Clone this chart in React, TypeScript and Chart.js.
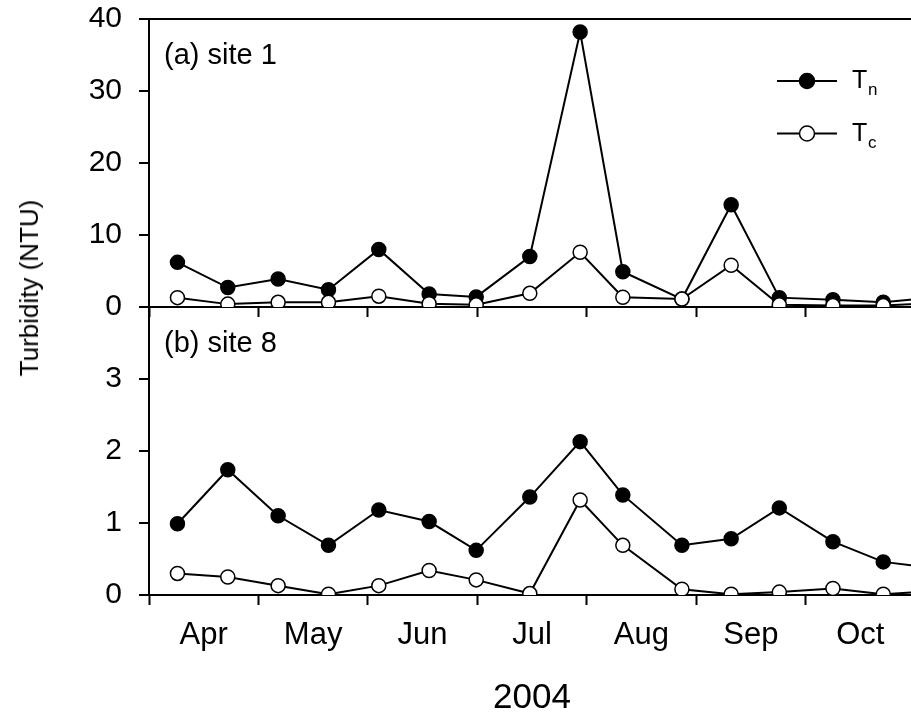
import React, { useEffect, useRef } from 'react';
import { Chart, registerables } from 'chart.js';

Chart.register(...registerables);

// ---- data ----
const months = ['Apr', 'May', 'Jun', 'Jul', 'Aug', 'Sep', 'Oct'];
// sampling dates as month position (0 = 1 Apr, 1 = 1 May, ...)
const sampleMonthPos = [0.26, 0.72, 1.18, 1.64, 2.1, 2.56, 2.99, 3.48, 3.94, 4.33, 4.87, 5.32, 5.76, 6.25, 6.71, 7.13];
const site1Tn = [6.2, 2.7, 3.9, 2.4, 8.0, 1.8, 1.4, 7.0, 38.2, 4.9, 1.1, 14.2, 1.3, 1.0, 0.65, 1.26];
const site1Tc = [1.3, 0.4, 0.65, 0.65, 1.5, 0.45, 0.3, 1.9, 7.6, 1.35, 1.1, 5.8, 0.3, 0.2, 0.2, 0.52];
const site8Tn = [0.99, 1.74, 1.1, 0.69, 1.18, 1.02, 0.62, 1.36, 2.13, 1.39, 0.69, 0.78, 1.21, 0.74, 0.46, 0.38];
const site8Tc = [0.3, 0.25, 0.13, 0.01, 0.13, 0.34, 0.21, 0.02, 1.32, 0.69, 0.08, 0.01, 0.04, 0.09, 0.01, 0.05];
const site1Ticks = [0, 10, 20, 30, 40];
const site8Ticks = [0, 1, 2, 3, 4];
const site8TickLabels = ['0', '1', '2', '3', ''];
const seriesNames: [string, string][] = [['T', 'n'], ['T', 'c']];
const panelLabels = ['(a) site 1', '(b) site 8'];
const yTitle = 'Turbidity (NTU)';
const xTitle = '2004';

const FONT = '"Liberation Sans", Arial, Helvetica, sans-serif';

const xTickValues: number[] = [];
for (let i = 0; i <= months.length; i++) {
  xTickValues.push(i);
  if (i < months.length) xTickValues.push(i + 0.5);
}

function pts(ys: number[]) {
  return sampleMonthPos.map((x, i) => ({ x, y: ys[i] }));
}

function series(label: string, ys: number[], fill: string, order: number) {
  return {
    label,
    data: pts(ys),
    borderColor: '#000',
    borderWidth: 2,
    pointRadius: 7,
    pointHoverRadius: 7,
    pointBackgroundColor: fill,
    pointBorderColor: '#000',
    pointBorderWidth: 1.5,
    tension: 0,
    order,
  };
}

function xScale(showLabels: boolean, height: number) {
  return {
    type: 'linear',
    min: 0,
    max: months.length,
    afterBuildTicks: (s: any) => {
      s.ticks = xTickValues.map((v) => ({ value: v }));
    },
    afterFit: (s: any) => {
      s.height = height;
      s.paddingLeft = 0;
      s.paddingRight = 0;
    },
    border: { display: true, color: '#000', width: 2 },
    grid: {
      display: true,
      drawOnChartArea: false,
      drawTicks: true,
      tickLength: 10,
      tickWidth: 2,
      tickColor: (ctx: any) =>
        ctx.tick && Number.isInteger(ctx.tick.value) ? '#000' : 'rgba(0,0,0,0)',
    },
    ticks: {
      display: showLabels,
      autoSkip: false,
      maxRotation: 0,
      minRotation: 0,
      padding: 12,
      color: '#000',
      font: { family: FONT, size: 31 },
      callback: (v: number) => (Number.isInteger(v) ? '' : months[Math.floor(v)]),
    },
    title: showLabels
      ? {
          display: true,
          text: xTitle,
          color: '#000',
          font: { family: FONT, size: 35, lineHeight: 1 },
          padding: { top: 0, bottom: 1 },
        }
      : { display: false },
  };
}

function yScale(ticks: number[], labels: string[] | null, gridTop: boolean) {
  const max = ticks[ticks.length - 1];
  return {
    type: 'linear',
    min: ticks[0],
    max,
    afterBuildTicks: (s: any) => {
      s.ticks = ticks.map((v) => ({ value: v }));
    },
    afterFit: (s: any) => {
      s.width = 149;
      s.paddingTop = 0;
      s.paddingBottom = 0;
    },
    border: { display: true, color: '#000', width: 2 },
    grid: {
      display: true,
      drawOnChartArea: true,
      lineWidth: 2,
      color: (ctx: any) =>
        gridTop && ctx.tick && ctx.tick.value === max ? '#000' : 'rgba(0,0,0,0)',
      drawTicks: true,
      tickLength: 10,
      tickWidth: 2,
      tickColor: '#000',
    },
    ticks: {
      padding: 17,
      color: '#000',
      font: { family: FONT, size: 30 },
      callback: (v: number, i: number) => (labels ? labels[i] : String(v)),
    },
  };
}

const panelLabelPlugin = {
  id: 'panelLabel',
  afterDraw(chart: any, _args: any, opts: any) {
    const { ctx, chartArea } = chart;
    ctx.save();
    ctx.fillStyle = '#000';
    ctx.font = `29px ${FONT}`;
    ctx.textAlign = 'left';
    ctx.textBaseline = 'alphabetic';
    ctx.fillText(opts.text, chartArea.left + 15, chartArea.top + 45);
    ctx.restore();
  },
};

const seriesKeyPlugin = {
  id: 'seriesKey',
  afterDraw(chart: any, _args: any, opts: any) {
    if (!opts || !opts.show) return;
    const { ctx } = chart;
    ctx.save();
    const fills = ['#000', '#fff'];
    seriesNames.forEach((nm, i) => {
      const y = 81 + i * 52.5;
      ctx.strokeStyle = '#000';
      ctx.lineWidth = 2;
      ctx.beginPath();
      ctx.moveTo(777, y);
      ctx.lineTo(837, y);
      ctx.stroke();
      ctx.beginPath();
      ctx.arc(807, y, 7.5, 0, Math.PI * 2);
      ctx.fillStyle = fills[i];
      ctx.fill();
      ctx.lineWidth = 1.5;
      ctx.stroke();
      ctx.fillStyle = '#000';
      ctx.textAlign = 'left';
      ctx.textBaseline = 'alphabetic';
      ctx.font = `25px ${FONT}`;
      ctx.fillText(nm[0], 852, y + 7);
      ctx.font = `17px ${FONT}`;
      ctx.fillText(nm[1], 868, y + 14);
    });
    ctx.restore();
  },
};

export default function App() {
  const topRef = useRef<HTMLCanvasElement>(null);
  const botRef = useRef<HTMLCanvasElement>(null);

  useEffect(() => {
    const common = {
      responsive: false,
      animation: false,
      devicePixelRatio: 1,
      events: [],
    };
    const top = new Chart(topRef.current as HTMLCanvasElement, {
      type: 'line',
      data: {
        datasets: [
          series('Tn', site1Tn, '#000', 2),
          series('Tc', site1Tc, '#fff', 1),
        ],
      },
      options: {
        ...common,
        layout: { autoPadding: false, padding: { top: 19, right: 15, left: 0, bottom: 0 } },
        scales: {
          x: xScale(false, 23),
          y: yScale(site1Ticks, null, true),
        },
        plugins: {
          legend: { display: false },
          tooltip: { enabled: false },
          panelLabel: { text: panelLabels[0] },
          seriesKey: { show: true },
        },
      } as any,
      plugins: [panelLabelPlugin, seriesKeyPlugin],
    });
    const bot = new Chart(botRef.current as HTMLCanvasElement, {
      type: 'line',
      data: {
        datasets: [
          series('Tn', site8Tn, '#000', 2),
          series('Tc', site8Tc, '#fff', 1),
        ],
      },
      options: {
        ...common,
        layout: { autoPadding: false, padding: { top: 27, right: 15, left: 0, bottom: 0 } },
        scales: {
          x: xScale(true, 122),
          y: yScale(site8Ticks, site8TickLabels, false),
        },
        plugins: {
          legend: { display: false },
          tooltip: { enabled: false },
          panelLabel: { text: panelLabels[1] },
          seriesKey: { show: false },
        },
      } as any,
      plugins: [panelLabelPlugin, seriesKeyPlugin],
    });
    return () => {
      top.destroy();
      bot.destroy();
    };
  }, []);

  return (
    <div
      style={{
        position: 'fixed',
        left: 0,
        top: 0,
        width: 911,
        height: 717,
        overflow: 'hidden',
        background: '#fff',
      }}
    >
      <canvas
        ref={topRef}
        width={930}
        height={330}
        style={{ position: 'absolute', left: 0, top: 0, width: 930, height: 330 }}
      />
      <canvas
        ref={botRef}
        width={930}
        height={437}
        style={{ position: 'absolute', left: 0, top: 280, width: 930, height: 437 }}
      />
      <div
        style={{
          position: 'absolute',
          left: 29,
          top: 288,
          transform: 'translate(-50%, -50%) rotate(-90deg)',
          fontFamily: FONT,
          fontSize: 26,
          color: '#000',
          whiteSpace: 'nowrap',
          lineHeight: 1,
        }}
      >
        {yTitle}
      </div>
    </div>
  );
}
